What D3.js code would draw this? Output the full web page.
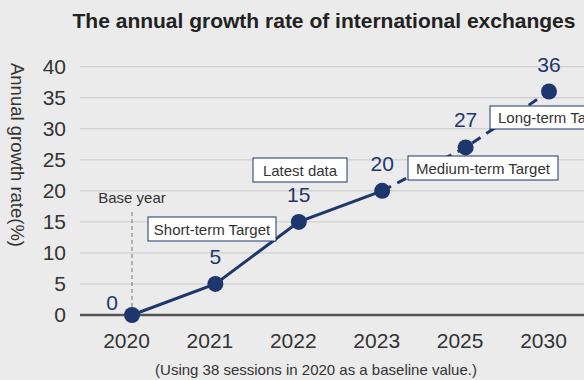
<!DOCTYPE html>
<html>
<head>
<meta charset="utf-8">
<script src="https://cdn.jsdelivr.net/npm/d3@7"></script>
<style>
  html, body { margin: 0; padding: 0; background: #ebebeb; }
  svg { display: block; font-family: "Liberation Sans", Arial, Helvetica, sans-serif; }
</style>
</head>
<body>
<svg id="chart" width="584" height="380"></svg>
<script>
// ---- data ----
const categories = ["2020", "2021", "2022", "2023", "2025", "2030"];
const values = [0, 5, 15, 20, 27, 36];
const yTicks = [0, 5, 10, 15, 20, 25, 30, 35, 40];
const solidCount = 4; // 2020-2023 actual (solid), 2023 onward targets (dashed)
const annotationTexts = ["Short-term Target", "Latest data", "Medium-term Target", "Long-term Target"];
const titleText = "The annual growth rate of international exchanges";
const yTitle = "Annual growth rate(%)";
const footnote = "(Using 38 sessions in 2020 as a baseline value.)";
const baseYearText = "Base year";

// ---- layout ----
const W = 584, H = 380;
const navy = "#1d376e";
const textColor = "#333333";
const svg = d3.select("#chart");
svg.append("rect").attr("width", W).attr("height", H).attr("fill", "#ebebeb");

const x = d3.scalePoint().domain(categories).range([132, 549]);
const y = d3.scaleLinear().domain([0, 40]).range([315, 66.7]);

// title
svg.append("text").attr("x", 324).attr("y", 28).attr("text-anchor", "middle")
  .attr("font-size", 21).attr("font-weight", "bold").attr("fill", "#222").text(titleText);

// y axis title
svg.append("text").attr("transform", "translate(11,155) rotate(90)")
  .attr("text-anchor", "middle").attr("font-size", 18.5).attr("fill", textColor).text(yTitle);

// gridlines
svg.append("g").selectAll("line").data(yTicks.filter(d => d !== 0)).join("line")
  .attr("x1", 80).attr("x2", W).attr("y1", d => y(d)).attr("y2", d => y(d))
  .attr("stroke", "#c9c9c9").attr("stroke-width", 1);

// y axis
const yAxis = svg.append("g").attr("transform", "translate(66,0)")
  .call(d3.axisLeft(y).tickValues(yTicks).tickSize(0).tickPadding(0));
yAxis.select(".domain").remove();
yAxis.selectAll("text").attr("font-size", 21).attr("fill", textColor)
  .attr("font-family", "'Liberation Sans', Arial, sans-serif");

// x axis
const xAxis = svg.append("g").attr("transform", "translate(-6,348)")
  .call(d3.axisBottom(x).tickSize(0).tickPadding(0));
xAxis.select(".domain").remove();
xAxis.selectAll("text").attr("font-size", 21).attr("fill", textColor).attr("dy", 0).attr("y", 0)
  .attr("font-family", "'Liberation Sans', Arial, sans-serif");

// zero baseline
svg.append("line").attr("x1", 80).attr("x2", W).attr("y1", y(0)).attr("y2", y(0))
  .attr("stroke", "#555").attr("stroke-width", 2.5);

// base year marker
svg.append("line").attr("x1", x(categories[0])).attr("x2", x(categories[0]))
  .attr("y1", 212).attr("y2", y(0) - 8)
  .attr("stroke", "#777").attr("stroke-width", 1).attr("stroke-dasharray", "4,3");
svg.append("text").attr("x", x(categories[0])).attr("y", 203).attr("text-anchor", "middle")
  .attr("font-size", 15).attr("fill", textColor).text(baseYearText);

// line
const pts = categories.map((c, i) => ({ c, v: values[i] }));
const line = d3.line().x(d => x(d.c)).y(d => y(d.v));
svg.append("path").datum(pts.slice(0, solidCount)).attr("d", line)
  .attr("fill", "none").attr("stroke", navy).attr("stroke-width", 3);
svg.append("path").datum(pts.slice(solidCount - 1)).attr("d", line)
  .attr("fill", "none").attr("stroke", navy).attr("stroke-width", 3).attr("stroke-dasharray", "10,7");

// annotation boxes (drawn over line)
const boxes = [
  { t: annotationTexts[0], x: 148, y: 217, w: 128, h: 24 },
  { t: annotationTexts[1], x: 253, y: 158, w: 94, h: 24 },
  { t: annotationTexts[2], x: 408, y: 156, w: 150, h: 24 },
  { t: annotationTexts[3], x: 490, y: 106, w: 128, h: 23 }
];
const bg = svg.append("g").selectAll("g").data(boxes).join("g");
bg.append("rect").attr("x", d => d.x).attr("y", d => d.y).attr("width", d => d.w).attr("height", d => d.h)
  .attr("fill", "#fff").attr("stroke", navy).attr("stroke-width", 1);
bg.append("text").attr("x", d => d.t === annotationTexts[3] ? d.x + 8 : d.x + d.w / 2)
  .attr("y", d => d.y + d.h / 2 + 5.5)
  .attr("text-anchor", d => d.t === annotationTexts[3] ? "start" : "middle")
  .attr("font-size", 15).attr("fill", textColor).text(d => d.t);

// points
svg.append("g").selectAll("circle").data(pts).join("circle")
  .attr("cx", d => x(d.c)).attr("cy", d => y(d.v)).attr("r", 8).attr("fill", navy);

// value labels
svg.append("g").selectAll("text").data(pts).join("text")
  .attr("x", (d, i) => i === 0 ? x(d.c) - 20 : x(d.c))
  .attr("y", (d, i) => i === 0 ? y(d.v) - 5 : y(d.v) - 20)
  .attr("text-anchor", "middle").attr("font-size", 21).attr("fill", navy)
  .text(d => d.v);

// footnote
svg.append("text").attr("x", 316).attr("y", 375).attr("text-anchor", "middle")
  .attr("font-size", 15).attr("fill", textColor).text(footnote);
</script>
</body>
</html>
